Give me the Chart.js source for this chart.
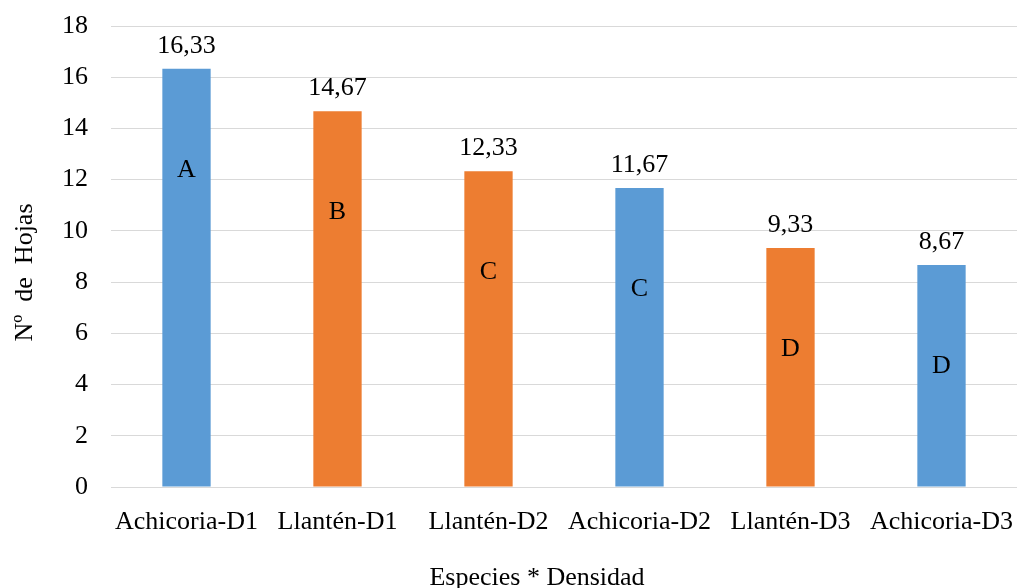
<!DOCTYPE html>
<html>
<head>
<meta charset="utf-8">
<script src="https://cdn.jsdelivr.net/npm/chart.js@4/dist/chart.umd.min.js"></script>
<style>
html,body{margin:0;padding:0;background:#fff;}
#wrap{width:1017px;height:588px;}
</style>
</head>
<body>
<div id="wrap"><canvas id="c" width="1017" height="588"></canvas></div>
<script>
const categories = ["Achicoria-D1","Llantén-D1","Llantén-D2","Achicoria-D2","Llantén-D3","Achicoria-D3"];
const values = [16.33, 14.67, 12.33, 11.67, 9.33, 8.67];
const groupLetters = ["A","B","C","C","D","D"];
const barColors = ["#5B9BD5","#ED7D31","#ED7D31","#5B9BD5","#ED7D31","#5B9BD5"];
const yTicks = [0,2,4,6,8,10,12,14,16,18];
const xTitle = "Especies * Densidad";
const yTitle = "Nº  de  Hojas";

const FONT = "'Liberation Serif','Times New Roman',serif";
const FS = 26;

const labelPlugin = {
  id: 'barLabels',
  afterDatasetsDraw(chart) {
    const ctx = chart.ctx;
    const meta = chart.getDatasetMeta(0);
    const area = chart.chartArea;
    ctx.save();
    ctx.font = FS + "px " + FONT;
    ctx.fillStyle = "#000";
    ctx.textAlign = "center";
    ctx.textBaseline = "middle";
    meta.data.forEach((bar, i) => {
      ctx.fillText(values[i].toFixed(2).replace('.', ','), bar.x, bar.y - 23);
      ctx.fillText(groupLetters[i], bar.x, bar.y + 101);
    });
    // axis titles
    ctx.fillText(xTitle, (area.left + area.right) / 2 - 27, area.bottom + 91);
    ctx.translate(25, (area.top + area.bottom) / 2 + 16);
    ctx.rotate(-Math.PI / 2);
    ctx.fillText(yTitle, 0, 0);
    ctx.restore();
  }
};

new Chart(document.getElementById('c'), {
  type: 'bar',
  data: {
    labels: categories,
    datasets: [{
      data: values,
      backgroundColor: barColors,
      borderWidth: 0,
      barPercentage: 0.32,
      categoryPercentage: 1
    }]
  },
  options: {
    responsive: false,
    animation: false,
    layout: { padding: { top: 26, right: 0, left: 0, bottom: 0 } },
    plugins: { legend: { display: false }, tooltip: { enabled: false } },
    scales: {
      x: {
        grid: { display: false, drawTicks: false },
        border: { color: '#D9D9D9', width: 1 },
        ticks: { color: '#000', font: { family: FONT, size: FS }, padding: 20, maxRotation: 0, autoSkip: false },
        title: { display: false },
        afterFit(scale) { scale.height = 101; scale.paddingLeft = 0; scale.paddingRight = 0; }
      },
      y: {
        min: 0, max: 18,
        afterBuildTicks(scale) { scale.ticks = yTicks.map(v => ({ value: v })); },
        grid: { color: '#D9D9D9', lineWidth: 1, drawTicks: false },
        border: { display: false },
        ticks: { color: '#000', font: { family: FONT, size: FS }, padding: 23 },
        title: { display: false },
        afterFit(scale) { scale.width = 111; scale.paddingTop = 0; scale.paddingBottom = 0; }
      }
    }
  },
  plugins: [labelPlugin]
});
</script>
</body>
</html>
